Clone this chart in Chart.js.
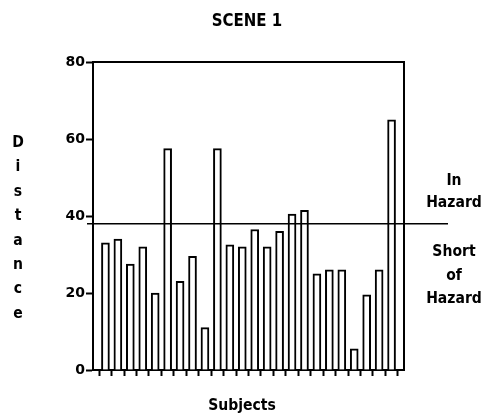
<!DOCTYPE html>
<html>
<head>
<meta charset="utf-8">
<script src="https://cdn.jsdelivr.net/npm/chart.js@4.4.0/dist/chart.umd.min.js"></script>
<style>
  html, body { margin: 0; padding: 0; background: #fff; }
  #scene { display: block; }
</style>
</head>
<body>
<canvas id="scene" width="486" height="419"></canvas>
<script>
// one bar per subject, distance
var subjects = [1, 2, 3, 4, 5, 6, 7, 8, 9, 10, 11, 12, 13, 14, 15, 16, 17, 18, 19, 20, 21, 22, 23, 24];
var distances = [33, 34, 27.5, 32, 20, 57.5, 23, 29.5, 11, 57.5, 32.5, 32, 36.5, 32, 36, 40.5, 41.5, 25, 26, 26, 5.5, 19.5, 26, 65];
var yTicks = [0, 20, 40, 60, 80];
var hazardLine = 38;
var yTitle = 'Distance';
var aboveLabel = ['In', 'Hazard'];
var belowLabel = ['Short', 'of', 'Hazard'];

var FONT = '"DejaVu Sans", "Liberation Sans", sans-serif';

// the old bitmap font is taller than DejaVu, so stretch a little
function tallText(ctx, txt, x, y, sy) {
  ctx.save();
  ctx.translate(x, y);
  ctx.scale(1, sy);
  ctx.fillText(txt, 0, 0);
  ctx.restore();
}

var textPlugin = {
  id: 'sceneText',
  afterDraw: function(chart) {
    var ctx = chart.ctx;
    var area = chart.chartArea;
    var y = chart.scales.y;
    ctx.save();

    // top and right frame
    ctx.strokeStyle = '#000';
    ctx.lineWidth = 2;
    ctx.beginPath();
    ctx.moveTo(area.left, area.top);
    ctx.lineTo(area.right, area.top);
    ctx.lineTo(area.right, area.bottom);
    ctx.stroke();

    // hazard threshold
    var hy = y.getPixelForValue(hazardLine);
    ctx.lineWidth = 1.5;
    ctx.beginPath();
    ctx.moveTo(area.left - 6, hy);
    ctx.lineTo(area.right + 44, hy);
    ctx.stroke();

    ctx.fillStyle = '#000';
    ctx.textAlign = 'center';
    ctx.textBaseline = 'alphabetic';

    ctx.font = 'bold 15px ' + FONT;
    tallText(ctx, 'SCENE 1', 247, 26, 1.2);

    ctx.font = 'bold 14px ' + FONT;
    tallText(ctx, 'Subjects', 242, 410, 1.1);

    // vertical stacked axis title
    for (var i = 0; i < yTitle.length; i++) {
      tallText(ctx, yTitle[i], 18, 147 + i * 24.4, 1.1);
    }

    var cx = 454;
    aboveLabel.forEach(function(t, i) {
      tallText(ctx, t, cx, 185 + i * 22, 1.15);
    });
    belowLabel.forEach(function(t, i) {
      tallText(ctx, t, cx, 256 + i * 23.5, 1.15);
    });
    ctx.restore();
  }
};

var chart = new Chart('scene', {
  type: 'bar',
  data: {
    datasets: [{
      label: 'Distance',
      data: subjects.map(function(s, i) { return { x: s, y: distances[i] }; }),
      backgroundColor: '#fff',
      borderColor: '#000',
      borderWidth: 2,
      barThickness: 8
    }]
  },
  options: {
    responsive: false,
    animation: false,
    devicePixelRatio: 1,
    layout: { padding: { left: 0, top: 62, right: 82, bottom: 39 } },
    plugins: {
      legend: { display: false },
      tooltip: { enabled: false },
      title: { display: false }
    },
    scales: {
      x: {
        type: 'linear',
        offset: false,
        min: 0,
        max: subjects.length + 1,
        ticks: { display: false, stepSize: 1 },
        grid: { drawOnChartArea: false, tickLength: 6, tickWidth: 2, color: '#000' },
        border: { display: true, color: '#000', width: 2 },
        afterFit: function(s) { s.height = 10; }
      },
      y: {
        min: 0,
        max: 80,
        afterBuildTicks: function(s) { s.ticks = yTicks.map(function(v) { return { value: v }; }); },
        ticks: { color: '#000', padding: 1, font: { family: FONT, size: 14, weight: 'bold' } },
        grid: { drawOnChartArea: false, tickLength: 7, tickWidth: 2, color: '#000' },
        border: { display: true, color: '#000', width: 2 },
        afterFit: function(s) { s.width = 93; }
      }
    }
  },
  plugins: [textPlugin]
});
</script>
</body>
</html>
